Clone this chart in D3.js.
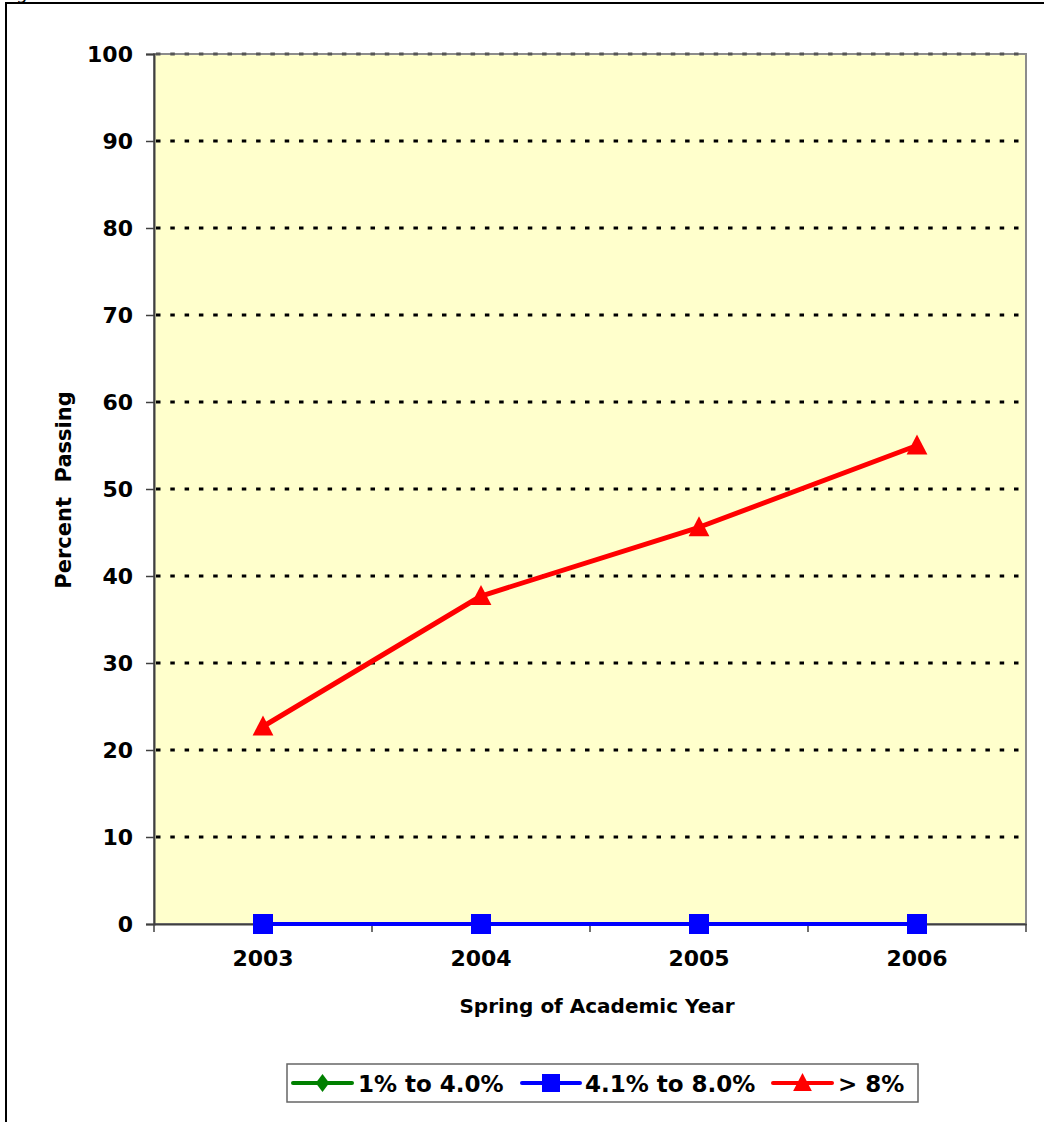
<!DOCTYPE html>
<html>
<head>
<meta charset="utf-8">
<script src="https://cdn.jsdelivr.net/npm/d3@7/dist/d3.min.js"></script>
<style>
  html, body { margin: 0; padding: 0; background: #fff; }
  svg { display: block; }
  text { font-family: "DejaVu Sans", Verdana, sans-serif; fill: #000; }
</style>
</head>
<body>
<svg id="chart" width="1044" height="1122"></svg>
<script>
// Percent passing by spring of academic year, per rate band
const years = ["2003", "2004", "2005", "2006"];
const band1 = [0, 0, 0, 0];            // 1% to 4.0%
const band2 = [0, 0, 0, 0];            // 4.1% to 8.0%
const band3 = [22.7, 37.7, 45.6, 55.0]; // > 8%
const yTicks = [0, 10, 20, 30, 40, 50, 60, 70, 80, 90, 100];
const seriesNames = ["1% to 4.0%", "4.1% to 8.0%", "> 8%"];

const svg = d3.select("#chart");
const plot = { left: 154, right: 1026, top: 54, bottom: 924 };

const x = d3.scaleBand().domain(years).range([plot.left, plot.right]).paddingInner(0).paddingOuter(0);
const y = d3.scaleLinear().domain([0, 100]).range([plot.bottom, plot.top]);
const cx = d => x(d) + x.bandwidth() / 2;

// outer frame
svg.append("path")
  .attr("d", `M6,${1122}V3H1044`)
  .attr("fill", "none").attr("stroke", "#000").attr("stroke-width", 2);
svg.append("text").attr("x", 2).attr("y", -1.5)
  .attr("font-size", 18).text("Figure");

// plot background and frame
svg.append("rect")
  .attr("x", plot.left).attr("y", plot.top)
  .attr("width", plot.right - plot.left).attr("height", plot.bottom - plot.top)
  .attr("fill", "#FFFFCC").attr("stroke", "#8c8c8c").attr("stroke-width", 2);

// dotted gridlines
svg.append("g").selectAll("line")
  .data(yTicks.filter(v => v > 0))
  .join("line")
  .attr("x1", plot.left + 2).attr("x2", plot.right - 1)
  .attr("y1", d => y(d)).attr("y2", d => y(d))
  .attr("stroke", d => d === 100 ? "#555" : "#000")
  .attr("stroke-width", 3)
  .attr("stroke-dasharray", "4.5 9.8");

// y axis
const yAxis = svg.append("g")
  .attr("transform", `translate(${plot.left},0)`)
  .call(d3.axisLeft(y).tickValues(yTicks).tickSize(8).tickPadding(13));
yAxis.select(".domain").attr("stroke", "#404040").attr("stroke-width", 2);
yAxis.selectAll(".tick line").attr("stroke", "#404040").attr("stroke-width", 1.5);
yAxis.selectAll(".tick text")
  .attr("font-size", 22).attr("font-weight", "bold")
  .attr("font-family", "DejaVu Sans, Verdana, sans-serif").attr("fill", "#000");

// x axis
const xAxis = svg.append("g")
  .attr("transform", `translate(0,${plot.bottom})`)
  .call(d3.axisBottom(x).tickSize(0).tickPadding(26));
xAxis.select(".domain").attr("stroke", "#404040").attr("stroke-width", 2);
xAxis.selectAll(".tick text")
  .attr("font-size", 22).attr("font-weight", "bold")
  .attr("font-family", "DejaVu Sans, Verdana, sans-serif").attr("fill", "#000");
// category boundary ticks
xAxis.append("g").selectAll("line")
  .data(years.map(d => x(d)).concat([plot.right]))
  .join("line")
  .attr("x1", d => d).attr("x2", d => d)
  .attr("y1", 0).attr("y2", 8)
  .attr("stroke", "#404040").attr("stroke-width", 1.5);

// axis titles
svg.append("text")
  .attr("x", 597).attr("y", 1013)
  .attr("text-anchor", "middle").attr("font-size", 20).attr("font-weight", "bold")
  .text("Spring of Academic Year");
svg.append("text")
  .attr("transform", "translate(71,490) rotate(-90)")
  .attr("text-anchor", "middle").attr("font-size", 21).attr("font-weight", "bold")
  .attr("xml:space", "preserve")
  .text("Percent  Passing");

// series
const series = [
  { name: seriesNames[0], values: band1, color: "#008000", symbol: "diamond", width: 4 },
  { name: seriesNames[1], values: band2, color: "#0000FF", symbol: "square", width: 4 },
  { name: seriesNames[2], values: band3, color: "#FF0000", symbol: "triangle", width: 5 }
];

function marker(sel, symbol, color, s) {
  if (symbol === "square") {
    sel.append("rect").attr("x", -s / 2).attr("y", -s / 2).attr("width", s).attr("height", s).attr("fill", color);
  } else if (symbol === "diamond") {
    const w = s * 0.75, h = s;
    sel.append("path").attr("d", `M0,${-h / 2}L${w / 2},0L0,${h / 2}L${-w / 2},0Z`).attr("fill", color);
  } else {
    sel.append("path").attr("d", `M0,${-s * 0.55}L${s * 0.52},${s * 0.45}L${-s * 0.52},${s * 0.45}Z`).attr("fill", color);
  }
}

const line = d3.line().x((d, i) => cx(years[i])).y(d => y(d));
series.forEach(sr => {
  svg.append("path")
    .attr("d", line(sr.values))
    .attr("fill", "none").attr("stroke", sr.color).attr("stroke-width", sr.width)
    .attr("stroke-linejoin", "round");
  sr.values.forEach((v, i) => {
    const g = svg.append("g").attr("transform", `translate(${cx(years[i])},${y(v)})`);
    marker(g, sr.symbol, sr.color, 20);
  });
});

// legend
const legend = svg.append("g");
legend.append("rect")
  .attr("x", 287).attr("y", 1064).attr("width", 631).attr("height", 38)
  .attr("fill", "#fff").attr("stroke", "#666").attr("stroke-width", 1.5);
const legendItems = [
  { x0: 293, x1: 352, tx: 358 },
  { x0: 522, x1: 580, tx: 585 },
  { x0: 773, x1: 832, tx: 838 }
];
series.forEach((sr, i) => {
  const it = legendItems[i];
  legend.append("line")
    .attr("x1", it.x0).attr("x2", it.x1).attr("y1", 1083).attr("y2", 1083)
    .attr("stroke", sr.color).attr("stroke-width", 4).attr("stroke-linecap", "round");
  const g = legend.append("g").attr("transform", `translate(${(it.x0 + it.x1) / 2},1083)`);
  marker(g, sr.symbol, sr.color, 18);
  legend.append("text")
    .attr("x", it.tx).attr("y", 1091.5)
    .attr("font-size", 23).attr("font-weight", "bold")
    .text(sr.name);
});
</script>
</body>
</html>
